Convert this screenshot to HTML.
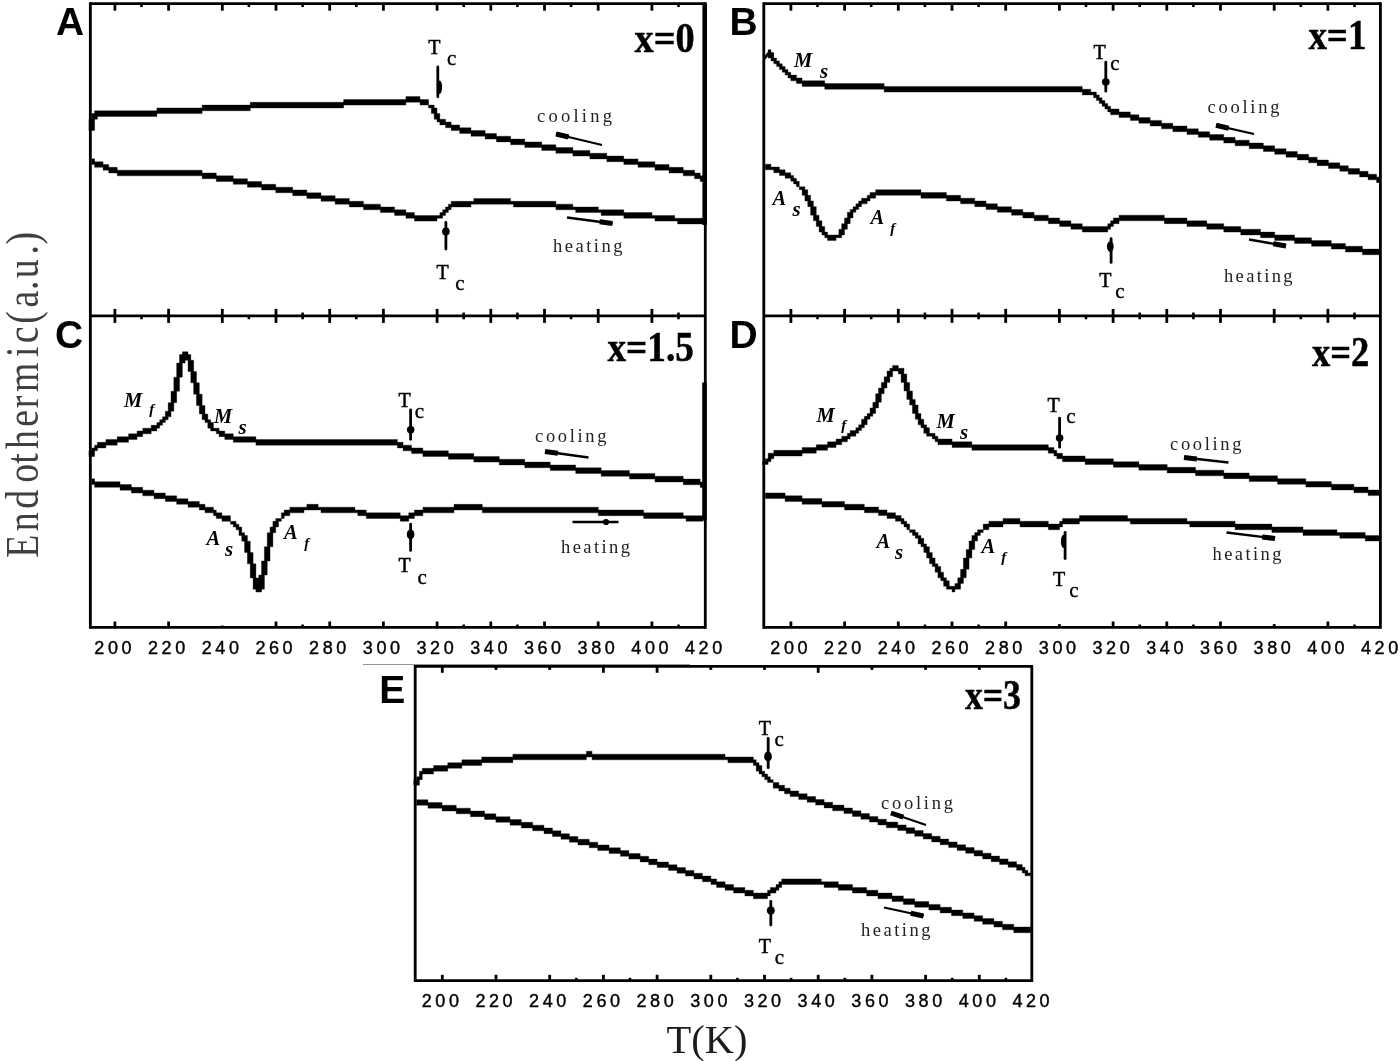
<!DOCTYPE html>
<html lang="en"><head><meta charset="utf-8"><title>Endothermic DSC curves</title>
<style>
html,body{margin:0;padding:0;background:#fff;}
body{width:1400px;height:1061px;overflow:hidden;}
svg{display:block;}
svg text{white-space:pre;}
</style></head><body>
<svg width="1400" height="1061" viewBox="0 0 1400 1061">
<defs><filter id="soft" x="0" y="0" width="100%" height="100%" filterUnits="userSpaceOnUse"><feGaussianBlur stdDeviation="0.55"/></filter></defs>
<rect x="0" y="0" width="1400" height="1061" fill="#fff"/>
<line x1="90.35" y1="2.29" x2="90.35" y2="628.71" stroke="#000" stroke-width="2.83" stroke-linecap="butt"/>
<line x1="705.30" y1="2.29" x2="705.30" y2="628.71" stroke="#000" stroke-width="2.83" stroke-linecap="butt"/>
<line x1="90.35" y1="3.70" x2="705.30" y2="3.70" stroke="#000" stroke-width="2.83" stroke-linecap="butt"/>
<line x1="90.35" y1="315.90" x2="705.30" y2="315.90" stroke="#000" stroke-width="2.83" stroke-linecap="butt"/>
<line x1="90.35" y1="627.30" x2="705.30" y2="627.30" stroke="#000" stroke-width="2.83" stroke-linecap="butt"/>
<line x1="704.70" y1="3.70" x2="704.70" y2="225.00" stroke="#000" stroke-width="4.60" stroke-linecap="butt"/>
<line x1="704.50" y1="382.50" x2="704.50" y2="520.50" stroke="#000" stroke-width="4.60" stroke-linecap="butt"/>
<line x1="763.80" y1="2.29" x2="763.80" y2="628.71" stroke="#000" stroke-width="2.83" stroke-linecap="butt"/>
<line x1="1380.40" y1="2.29" x2="1380.40" y2="628.71" stroke="#000" stroke-width="2.83" stroke-linecap="butt"/>
<line x1="763.80" y1="3.70" x2="1380.40" y2="3.70" stroke="#000" stroke-width="2.83" stroke-linecap="butt"/>
<line x1="763.80" y1="315.90" x2="1380.40" y2="315.90" stroke="#000" stroke-width="2.83" stroke-linecap="butt"/>
<line x1="763.80" y1="627.30" x2="1380.40" y2="627.30" stroke="#000" stroke-width="2.83" stroke-linecap="butt"/>
<line x1="415.20" y1="664.88" x2="415.20" y2="982.01" stroke="#000" stroke-width="2.83" stroke-linecap="butt"/>
<line x1="1031.80" y1="664.88" x2="1031.80" y2="982.01" stroke="#000" stroke-width="2.83" stroke-linecap="butt"/>
<line x1="415.20" y1="666.30" x2="1031.80" y2="666.30" stroke="#000" stroke-width="2.83" stroke-linecap="butt"/>
<line x1="415.20" y1="980.60" x2="1031.80" y2="980.60" stroke="#000" stroke-width="2.83" stroke-linecap="butt"/>
<line x1="363.00" y1="664.50" x2="690.00" y2="664.50" stroke="#888" stroke-width="0.90" stroke-linecap="butt"/>
<line x1="114.90" y1="3.70" x2="114.90" y2="10.70" stroke="#000" stroke-width="2.80" stroke-linecap="butt"/>
<line x1="168.60" y1="3.70" x2="168.60" y2="10.70" stroke="#000" stroke-width="2.80" stroke-linecap="butt"/>
<line x1="222.30" y1="3.70" x2="222.30" y2="10.70" stroke="#000" stroke-width="2.80" stroke-linecap="butt"/>
<line x1="276.00" y1="3.70" x2="276.00" y2="10.70" stroke="#000" stroke-width="2.80" stroke-linecap="butt"/>
<line x1="329.70" y1="3.70" x2="329.70" y2="10.70" stroke="#000" stroke-width="2.80" stroke-linecap="butt"/>
<line x1="383.40" y1="3.70" x2="383.40" y2="10.70" stroke="#000" stroke-width="2.80" stroke-linecap="butt"/>
<line x1="437.10" y1="3.70" x2="437.10" y2="10.70" stroke="#000" stroke-width="2.80" stroke-linecap="butt"/>
<line x1="490.80" y1="3.70" x2="490.80" y2="10.70" stroke="#000" stroke-width="2.80" stroke-linecap="butt"/>
<line x1="544.50" y1="3.70" x2="544.50" y2="10.70" stroke="#000" stroke-width="2.80" stroke-linecap="butt"/>
<line x1="598.20" y1="3.70" x2="598.20" y2="10.70" stroke="#000" stroke-width="2.80" stroke-linecap="butt"/>
<line x1="651.90" y1="3.70" x2="651.90" y2="10.70" stroke="#000" stroke-width="2.80" stroke-linecap="butt"/>
<line x1="141.50" y1="3.70" x2="141.50" y2="7.06" stroke="#000" stroke-width="2.60" stroke-linecap="butt"/>
<line x1="248.90" y1="3.70" x2="248.90" y2="7.06" stroke="#000" stroke-width="2.60" stroke-linecap="butt"/>
<line x1="302.60" y1="3.70" x2="302.60" y2="7.06" stroke="#000" stroke-width="2.60" stroke-linecap="butt"/>
<line x1="356.30" y1="3.70" x2="356.30" y2="7.06" stroke="#000" stroke-width="2.60" stroke-linecap="butt"/>
<line x1="463.70" y1="3.70" x2="463.70" y2="7.06" stroke="#000" stroke-width="2.60" stroke-linecap="butt"/>
<line x1="517.40" y1="3.70" x2="517.40" y2="7.06" stroke="#000" stroke-width="2.60" stroke-linecap="butt"/>
<line x1="571.10" y1="3.70" x2="571.10" y2="7.06" stroke="#000" stroke-width="2.60" stroke-linecap="butt"/>
<line x1="678.50" y1="3.70" x2="678.50" y2="7.06" stroke="#000" stroke-width="2.60" stroke-linecap="butt"/>
<line x1="790.90" y1="3.70" x2="790.90" y2="10.70" stroke="#000" stroke-width="2.80" stroke-linecap="butt"/>
<line x1="844.60" y1="3.70" x2="844.60" y2="10.70" stroke="#000" stroke-width="2.80" stroke-linecap="butt"/>
<line x1="898.30" y1="3.70" x2="898.30" y2="10.70" stroke="#000" stroke-width="2.80" stroke-linecap="butt"/>
<line x1="952.00" y1="3.70" x2="952.00" y2="10.70" stroke="#000" stroke-width="2.80" stroke-linecap="butt"/>
<line x1="1005.70" y1="3.70" x2="1005.70" y2="10.70" stroke="#000" stroke-width="2.80" stroke-linecap="butt"/>
<line x1="1059.40" y1="3.70" x2="1059.40" y2="10.70" stroke="#000" stroke-width="2.80" stroke-linecap="butt"/>
<line x1="1113.10" y1="3.70" x2="1113.10" y2="10.70" stroke="#000" stroke-width="2.80" stroke-linecap="butt"/>
<line x1="1166.80" y1="3.70" x2="1166.80" y2="10.70" stroke="#000" stroke-width="2.80" stroke-linecap="butt"/>
<line x1="1220.50" y1="3.70" x2="1220.50" y2="10.70" stroke="#000" stroke-width="2.80" stroke-linecap="butt"/>
<line x1="1274.20" y1="3.70" x2="1274.20" y2="10.70" stroke="#000" stroke-width="2.80" stroke-linecap="butt"/>
<line x1="1327.90" y1="3.70" x2="1327.90" y2="10.70" stroke="#000" stroke-width="2.80" stroke-linecap="butt"/>
<line x1="817.50" y1="3.70" x2="817.50" y2="7.06" stroke="#000" stroke-width="2.60" stroke-linecap="butt"/>
<line x1="871.20" y1="3.70" x2="871.20" y2="7.06" stroke="#000" stroke-width="2.60" stroke-linecap="butt"/>
<line x1="924.90" y1="3.70" x2="924.90" y2="7.06" stroke="#000" stroke-width="2.60" stroke-linecap="butt"/>
<line x1="978.60" y1="3.70" x2="978.60" y2="7.06" stroke="#000" stroke-width="2.60" stroke-linecap="butt"/>
<line x1="1086.00" y1="3.70" x2="1086.00" y2="7.06" stroke="#000" stroke-width="2.60" stroke-linecap="butt"/>
<line x1="1139.70" y1="3.70" x2="1139.70" y2="7.06" stroke="#000" stroke-width="2.60" stroke-linecap="butt"/>
<line x1="1193.40" y1="3.70" x2="1193.40" y2="7.06" stroke="#000" stroke-width="2.60" stroke-linecap="butt"/>
<line x1="1300.80" y1="3.70" x2="1300.80" y2="7.06" stroke="#000" stroke-width="2.60" stroke-linecap="butt"/>
<line x1="1354.50" y1="3.70" x2="1354.50" y2="7.06" stroke="#000" stroke-width="2.60" stroke-linecap="butt"/>
<line x1="114.90" y1="308.90" x2="114.90" y2="322.90" stroke="#000" stroke-width="2.80" stroke-linecap="butt"/>
<line x1="168.60" y1="308.90" x2="168.60" y2="322.90" stroke="#000" stroke-width="2.80" stroke-linecap="butt"/>
<line x1="222.30" y1="308.90" x2="222.30" y2="322.90" stroke="#000" stroke-width="2.80" stroke-linecap="butt"/>
<line x1="276.00" y1="308.90" x2="276.00" y2="322.90" stroke="#000" stroke-width="2.80" stroke-linecap="butt"/>
<line x1="329.70" y1="308.90" x2="329.70" y2="322.90" stroke="#000" stroke-width="2.80" stroke-linecap="butt"/>
<line x1="383.40" y1="308.90" x2="383.40" y2="322.90" stroke="#000" stroke-width="2.80" stroke-linecap="butt"/>
<line x1="437.10" y1="308.90" x2="437.10" y2="322.90" stroke="#000" stroke-width="2.80" stroke-linecap="butt"/>
<line x1="490.80" y1="308.90" x2="490.80" y2="322.90" stroke="#000" stroke-width="2.80" stroke-linecap="butt"/>
<line x1="544.50" y1="308.90" x2="544.50" y2="322.90" stroke="#000" stroke-width="2.80" stroke-linecap="butt"/>
<line x1="598.20" y1="308.90" x2="598.20" y2="322.90" stroke="#000" stroke-width="2.80" stroke-linecap="butt"/>
<line x1="651.90" y1="308.90" x2="651.90" y2="322.90" stroke="#000" stroke-width="2.80" stroke-linecap="butt"/>
<line x1="141.50" y1="315.90" x2="141.50" y2="319.26" stroke="#000" stroke-width="2.60" stroke-linecap="butt"/>
<line x1="248.90" y1="315.90" x2="248.90" y2="319.26" stroke="#000" stroke-width="2.60" stroke-linecap="butt"/>
<line x1="302.60" y1="312.54" x2="302.60" y2="319.26" stroke="#000" stroke-width="2.60" stroke-linecap="butt"/>
<line x1="356.30" y1="315.90" x2="356.30" y2="319.26" stroke="#000" stroke-width="2.60" stroke-linecap="butt"/>
<line x1="463.70" y1="312.54" x2="463.70" y2="319.26" stroke="#000" stroke-width="2.60" stroke-linecap="butt"/>
<line x1="517.40" y1="312.54" x2="517.40" y2="319.26" stroke="#000" stroke-width="2.60" stroke-linecap="butt"/>
<line x1="571.10" y1="315.90" x2="571.10" y2="319.26" stroke="#000" stroke-width="2.60" stroke-linecap="butt"/>
<line x1="678.50" y1="312.54" x2="678.50" y2="319.26" stroke="#000" stroke-width="2.60" stroke-linecap="butt"/>
<line x1="790.90" y1="308.90" x2="790.90" y2="322.90" stroke="#000" stroke-width="2.80" stroke-linecap="butt"/>
<line x1="844.60" y1="308.90" x2="844.60" y2="322.90" stroke="#000" stroke-width="2.80" stroke-linecap="butt"/>
<line x1="898.30" y1="308.90" x2="898.30" y2="322.90" stroke="#000" stroke-width="2.80" stroke-linecap="butt"/>
<line x1="952.00" y1="308.90" x2="952.00" y2="322.90" stroke="#000" stroke-width="2.80" stroke-linecap="butt"/>
<line x1="1005.70" y1="308.90" x2="1005.70" y2="322.90" stroke="#000" stroke-width="2.80" stroke-linecap="butt"/>
<line x1="1059.40" y1="308.90" x2="1059.40" y2="322.90" stroke="#000" stroke-width="2.80" stroke-linecap="butt"/>
<line x1="1113.10" y1="308.90" x2="1113.10" y2="322.90" stroke="#000" stroke-width="2.80" stroke-linecap="butt"/>
<line x1="1166.80" y1="308.90" x2="1166.80" y2="322.90" stroke="#000" stroke-width="2.80" stroke-linecap="butt"/>
<line x1="1220.50" y1="308.90" x2="1220.50" y2="322.90" stroke="#000" stroke-width="2.80" stroke-linecap="butt"/>
<line x1="1274.20" y1="308.90" x2="1274.20" y2="322.90" stroke="#000" stroke-width="2.80" stroke-linecap="butt"/>
<line x1="1327.90" y1="308.90" x2="1327.90" y2="322.90" stroke="#000" stroke-width="2.80" stroke-linecap="butt"/>
<line x1="817.50" y1="315.90" x2="817.50" y2="319.26" stroke="#000" stroke-width="2.60" stroke-linecap="butt"/>
<line x1="871.20" y1="315.90" x2="871.20" y2="319.26" stroke="#000" stroke-width="2.60" stroke-linecap="butt"/>
<line x1="924.90" y1="312.54" x2="924.90" y2="319.26" stroke="#000" stroke-width="2.60" stroke-linecap="butt"/>
<line x1="978.60" y1="312.54" x2="978.60" y2="319.26" stroke="#000" stroke-width="2.60" stroke-linecap="butt"/>
<line x1="1086.00" y1="315.90" x2="1086.00" y2="319.26" stroke="#000" stroke-width="2.60" stroke-linecap="butt"/>
<line x1="1139.70" y1="312.54" x2="1139.70" y2="319.26" stroke="#000" stroke-width="2.60" stroke-linecap="butt"/>
<line x1="1193.40" y1="312.54" x2="1193.40" y2="319.26" stroke="#000" stroke-width="2.60" stroke-linecap="butt"/>
<line x1="1300.80" y1="315.90" x2="1300.80" y2="319.26" stroke="#000" stroke-width="2.60" stroke-linecap="butt"/>
<line x1="1354.50" y1="312.54" x2="1354.50" y2="319.26" stroke="#000" stroke-width="2.60" stroke-linecap="butt"/>
<line x1="114.90" y1="621.50" x2="114.90" y2="627.30" stroke="#000" stroke-width="2.80" stroke-linecap="butt"/>
<line x1="168.60" y1="621.50" x2="168.60" y2="627.30" stroke="#000" stroke-width="2.80" stroke-linecap="butt"/>
<line x1="222.30" y1="625.56" x2="222.30" y2="627.30" stroke="#000" stroke-width="2.80" stroke-linecap="butt"/>
<line x1="276.00" y1="621.50" x2="276.00" y2="627.30" stroke="#000" stroke-width="2.80" stroke-linecap="butt"/>
<line x1="329.70" y1="621.50" x2="329.70" y2="627.30" stroke="#000" stroke-width="2.80" stroke-linecap="butt"/>
<line x1="383.40" y1="621.50" x2="383.40" y2="627.30" stroke="#000" stroke-width="2.80" stroke-linecap="butt"/>
<line x1="437.10" y1="621.50" x2="437.10" y2="627.30" stroke="#000" stroke-width="2.80" stroke-linecap="butt"/>
<line x1="490.80" y1="621.50" x2="490.80" y2="627.30" stroke="#000" stroke-width="2.80" stroke-linecap="butt"/>
<line x1="544.50" y1="621.50" x2="544.50" y2="627.30" stroke="#000" stroke-width="2.80" stroke-linecap="butt"/>
<line x1="598.20" y1="621.50" x2="598.20" y2="627.30" stroke="#000" stroke-width="2.80" stroke-linecap="butt"/>
<line x1="651.90" y1="621.50" x2="651.90" y2="627.30" stroke="#000" stroke-width="2.80" stroke-linecap="butt"/>
<line x1="302.60" y1="624.52" x2="302.60" y2="627.30" stroke="#000" stroke-width="2.60" stroke-linecap="butt"/>
<line x1="463.70" y1="624.52" x2="463.70" y2="627.30" stroke="#000" stroke-width="2.60" stroke-linecap="butt"/>
<line x1="517.40" y1="624.52" x2="517.40" y2="627.30" stroke="#000" stroke-width="2.60" stroke-linecap="butt"/>
<line x1="678.50" y1="624.52" x2="678.50" y2="627.30" stroke="#000" stroke-width="2.60" stroke-linecap="butt"/>
<line x1="790.90" y1="621.50" x2="790.90" y2="627.30" stroke="#000" stroke-width="2.80" stroke-linecap="butt"/>
<line x1="844.60" y1="621.50" x2="844.60" y2="627.30" stroke="#000" stroke-width="2.80" stroke-linecap="butt"/>
<line x1="898.30" y1="621.50" x2="898.30" y2="627.30" stroke="#000" stroke-width="2.80" stroke-linecap="butt"/>
<line x1="952.00" y1="621.50" x2="952.00" y2="627.30" stroke="#000" stroke-width="2.80" stroke-linecap="butt"/>
<line x1="1005.70" y1="621.50" x2="1005.70" y2="627.30" stroke="#000" stroke-width="2.80" stroke-linecap="butt"/>
<line x1="1059.40" y1="624.11" x2="1059.40" y2="627.30" stroke="#000" stroke-width="2.80" stroke-linecap="butt"/>
<line x1="1113.10" y1="621.50" x2="1113.10" y2="627.30" stroke="#000" stroke-width="2.80" stroke-linecap="butt"/>
<line x1="1166.80" y1="621.50" x2="1166.80" y2="627.30" stroke="#000" stroke-width="2.80" stroke-linecap="butt"/>
<line x1="1220.50" y1="621.50" x2="1220.50" y2="627.30" stroke="#000" stroke-width="2.80" stroke-linecap="butt"/>
<line x1="1274.20" y1="624.11" x2="1274.20" y2="627.30" stroke="#000" stroke-width="2.80" stroke-linecap="butt"/>
<line x1="1327.90" y1="621.50" x2="1327.90" y2="627.30" stroke="#000" stroke-width="2.80" stroke-linecap="butt"/>
<line x1="924.90" y1="624.52" x2="924.90" y2="627.30" stroke="#000" stroke-width="2.60" stroke-linecap="butt"/>
<line x1="978.60" y1="624.52" x2="978.60" y2="627.30" stroke="#000" stroke-width="2.60" stroke-linecap="butt"/>
<line x1="1139.70" y1="624.52" x2="1139.70" y2="627.30" stroke="#000" stroke-width="2.60" stroke-linecap="butt"/>
<line x1="1193.40" y1="624.52" x2="1193.40" y2="627.30" stroke="#000" stroke-width="2.60" stroke-linecap="butt"/>
<line x1="1354.50" y1="624.52" x2="1354.50" y2="627.30" stroke="#000" stroke-width="2.60" stroke-linecap="butt"/>
<line x1="442.30" y1="666.30" x2="442.30" y2="672.80" stroke="#000" stroke-width="2.80" stroke-linecap="butt"/>
<line x1="496.00" y1="666.30" x2="496.00" y2="669.88" stroke="#000" stroke-width="2.80" stroke-linecap="butt"/>
<line x1="549.70" y1="666.30" x2="549.70" y2="669.88" stroke="#000" stroke-width="2.80" stroke-linecap="butt"/>
<line x1="603.40" y1="666.30" x2="603.40" y2="672.80" stroke="#000" stroke-width="2.80" stroke-linecap="butt"/>
<line x1="657.10" y1="666.30" x2="657.10" y2="672.80" stroke="#000" stroke-width="2.80" stroke-linecap="butt"/>
<line x1="710.80" y1="666.30" x2="710.80" y2="669.88" stroke="#000" stroke-width="2.80" stroke-linecap="butt"/>
<line x1="764.50" y1="666.30" x2="764.50" y2="669.88" stroke="#000" stroke-width="2.80" stroke-linecap="butt"/>
<line x1="818.20" y1="666.30" x2="818.20" y2="672.80" stroke="#000" stroke-width="2.80" stroke-linecap="butt"/>
<line x1="871.90" y1="666.30" x2="871.90" y2="669.88" stroke="#000" stroke-width="2.80" stroke-linecap="butt"/>
<line x1="925.60" y1="666.30" x2="925.60" y2="669.88" stroke="#000" stroke-width="2.80" stroke-linecap="butt"/>
<line x1="979.30" y1="666.30" x2="979.30" y2="669.88" stroke="#000" stroke-width="2.80" stroke-linecap="butt"/>
<line x1="442.30" y1="974.80" x2="442.30" y2="980.60" stroke="#000" stroke-width="2.80" stroke-linecap="butt"/>
<line x1="496.00" y1="974.80" x2="496.00" y2="980.60" stroke="#000" stroke-width="2.80" stroke-linecap="butt"/>
<line x1="549.70" y1="974.80" x2="549.70" y2="980.60" stroke="#000" stroke-width="2.80" stroke-linecap="butt"/>
<line x1="603.40" y1="974.80" x2="603.40" y2="980.60" stroke="#000" stroke-width="2.80" stroke-linecap="butt"/>
<line x1="657.10" y1="974.80" x2="657.10" y2="980.60" stroke="#000" stroke-width="2.80" stroke-linecap="butt"/>
<line x1="710.80" y1="974.80" x2="710.80" y2="980.60" stroke="#000" stroke-width="2.80" stroke-linecap="butt"/>
<line x1="764.50" y1="974.80" x2="764.50" y2="980.60" stroke="#000" stroke-width="2.80" stroke-linecap="butt"/>
<line x1="818.20" y1="974.80" x2="818.20" y2="980.60" stroke="#000" stroke-width="2.80" stroke-linecap="butt"/>
<line x1="871.90" y1="974.80" x2="871.90" y2="980.60" stroke="#000" stroke-width="2.80" stroke-linecap="butt"/>
<line x1="925.60" y1="974.80" x2="925.60" y2="980.60" stroke="#000" stroke-width="2.80" stroke-linecap="butt"/>
<line x1="979.30" y1="974.80" x2="979.30" y2="980.60" stroke="#000" stroke-width="2.80" stroke-linecap="butt"/>
<line x1="576.30" y1="977.82" x2="576.30" y2="980.60" stroke="#000" stroke-width="2.60" stroke-linecap="butt"/>
<line x1="630.00" y1="977.82" x2="630.00" y2="980.60" stroke="#000" stroke-width="2.60" stroke-linecap="butt"/>
<line x1="737.40" y1="977.82" x2="737.40" y2="980.60" stroke="#000" stroke-width="2.60" stroke-linecap="butt"/>
<line x1="791.10" y1="977.82" x2="791.10" y2="980.60" stroke="#000" stroke-width="2.60" stroke-linecap="butt"/>
<line x1="844.80" y1="977.82" x2="844.80" y2="980.60" stroke="#000" stroke-width="2.60" stroke-linecap="butt"/>
<line x1="952.20" y1="977.82" x2="952.20" y2="980.60" stroke="#000" stroke-width="2.60" stroke-linecap="butt"/>
<line x1="1005.90" y1="977.82" x2="1005.90" y2="980.60" stroke="#000" stroke-width="2.60" stroke-linecap="butt"/>
<text x="114.70" y="653.80" font-family='"Liberation Sans", sans-serif' font-size="18.00" font-weight="normal" font-style="normal" fill="#000" text-anchor="middle" letter-spacing="3.60" stroke="#000" stroke-width="0.4">200</text>
<text x="168.40" y="653.80" font-family='"Liberation Sans", sans-serif' font-size="18.00" font-weight="normal" font-style="normal" fill="#000" text-anchor="middle" letter-spacing="3.60" stroke="#000" stroke-width="0.4">220</text>
<text x="222.10" y="653.80" font-family='"Liberation Sans", sans-serif' font-size="18.00" font-weight="normal" font-style="normal" fill="#000" text-anchor="middle" letter-spacing="3.60" stroke="#000" stroke-width="0.4">240</text>
<text x="275.80" y="653.80" font-family='"Liberation Sans", sans-serif' font-size="18.00" font-weight="normal" font-style="normal" fill="#000" text-anchor="middle" letter-spacing="3.60" stroke="#000" stroke-width="0.4">260</text>
<text x="329.50" y="653.80" font-family='"Liberation Sans", sans-serif' font-size="18.00" font-weight="normal" font-style="normal" fill="#000" text-anchor="middle" letter-spacing="3.60" stroke="#000" stroke-width="0.4">280</text>
<text x="383.20" y="653.80" font-family='"Liberation Sans", sans-serif' font-size="18.00" font-weight="normal" font-style="normal" fill="#000" text-anchor="middle" letter-spacing="3.60" stroke="#000" stroke-width="0.4">300</text>
<text x="436.90" y="653.80" font-family='"Liberation Sans", sans-serif' font-size="18.00" font-weight="normal" font-style="normal" fill="#000" text-anchor="middle" letter-spacing="3.60" stroke="#000" stroke-width="0.4">320</text>
<text x="490.60" y="653.80" font-family='"Liberation Sans", sans-serif' font-size="18.00" font-weight="normal" font-style="normal" fill="#000" text-anchor="middle" letter-spacing="3.60" stroke="#000" stroke-width="0.4">340</text>
<text x="544.30" y="653.80" font-family='"Liberation Sans", sans-serif' font-size="18.00" font-weight="normal" font-style="normal" fill="#000" text-anchor="middle" letter-spacing="3.60" stroke="#000" stroke-width="0.4">360</text>
<text x="598.00" y="653.80" font-family='"Liberation Sans", sans-serif' font-size="18.00" font-weight="normal" font-style="normal" fill="#000" text-anchor="middle" letter-spacing="3.60" stroke="#000" stroke-width="0.4">380</text>
<text x="651.70" y="653.80" font-family='"Liberation Sans", sans-serif' font-size="18.00" font-weight="normal" font-style="normal" fill="#000" text-anchor="middle" letter-spacing="3.60" stroke="#000" stroke-width="0.4">400</text>
<text x="705.40" y="653.80" font-family='"Liberation Sans", sans-serif' font-size="18.00" font-weight="normal" font-style="normal" fill="#000" text-anchor="middle" letter-spacing="3.60" stroke="#000" stroke-width="0.4">420</text>
<text x="790.70" y="653.80" font-family='"Liberation Sans", sans-serif' font-size="18.00" font-weight="normal" font-style="normal" fill="#000" text-anchor="middle" letter-spacing="3.60" stroke="#000" stroke-width="0.4">200</text>
<text x="844.40" y="653.80" font-family='"Liberation Sans", sans-serif' font-size="18.00" font-weight="normal" font-style="normal" fill="#000" text-anchor="middle" letter-spacing="3.60" stroke="#000" stroke-width="0.4">220</text>
<text x="898.10" y="653.80" font-family='"Liberation Sans", sans-serif' font-size="18.00" font-weight="normal" font-style="normal" fill="#000" text-anchor="middle" letter-spacing="3.60" stroke="#000" stroke-width="0.4">240</text>
<text x="951.80" y="653.80" font-family='"Liberation Sans", sans-serif' font-size="18.00" font-weight="normal" font-style="normal" fill="#000" text-anchor="middle" letter-spacing="3.60" stroke="#000" stroke-width="0.4">260</text>
<text x="1005.50" y="653.80" font-family='"Liberation Sans", sans-serif' font-size="18.00" font-weight="normal" font-style="normal" fill="#000" text-anchor="middle" letter-spacing="3.60" stroke="#000" stroke-width="0.4">280</text>
<text x="1059.20" y="653.80" font-family='"Liberation Sans", sans-serif' font-size="18.00" font-weight="normal" font-style="normal" fill="#000" text-anchor="middle" letter-spacing="3.60" stroke="#000" stroke-width="0.4">300</text>
<text x="1112.90" y="653.80" font-family='"Liberation Sans", sans-serif' font-size="18.00" font-weight="normal" font-style="normal" fill="#000" text-anchor="middle" letter-spacing="3.60" stroke="#000" stroke-width="0.4">320</text>
<text x="1166.60" y="653.80" font-family='"Liberation Sans", sans-serif' font-size="18.00" font-weight="normal" font-style="normal" fill="#000" text-anchor="middle" letter-spacing="3.60" stroke="#000" stroke-width="0.4">340</text>
<text x="1220.30" y="653.80" font-family='"Liberation Sans", sans-serif' font-size="18.00" font-weight="normal" font-style="normal" fill="#000" text-anchor="middle" letter-spacing="3.60" stroke="#000" stroke-width="0.4">360</text>
<text x="1274.00" y="653.80" font-family='"Liberation Sans", sans-serif' font-size="18.00" font-weight="normal" font-style="normal" fill="#000" text-anchor="middle" letter-spacing="3.60" stroke="#000" stroke-width="0.4">380</text>
<text x="1327.70" y="653.80" font-family='"Liberation Sans", sans-serif' font-size="18.00" font-weight="normal" font-style="normal" fill="#000" text-anchor="middle" letter-spacing="3.60" stroke="#000" stroke-width="0.4">400</text>
<text x="1381.40" y="653.80" font-family='"Liberation Sans", sans-serif' font-size="18.00" font-weight="normal" font-style="normal" fill="#000" text-anchor="middle" letter-spacing="3.60" stroke="#000" stroke-width="0.4">420</text>
<text x="442.10" y="1006.80" font-family='"Liberation Sans", sans-serif' font-size="18.00" font-weight="normal" font-style="normal" fill="#000" text-anchor="middle" letter-spacing="3.60" stroke="#000" stroke-width="0.4">200</text>
<text x="495.80" y="1006.80" font-family='"Liberation Sans", sans-serif' font-size="18.00" font-weight="normal" font-style="normal" fill="#000" text-anchor="middle" letter-spacing="3.60" stroke="#000" stroke-width="0.4">220</text>
<text x="549.50" y="1006.80" font-family='"Liberation Sans", sans-serif' font-size="18.00" font-weight="normal" font-style="normal" fill="#000" text-anchor="middle" letter-spacing="3.60" stroke="#000" stroke-width="0.4">240</text>
<text x="603.20" y="1006.80" font-family='"Liberation Sans", sans-serif' font-size="18.00" font-weight="normal" font-style="normal" fill="#000" text-anchor="middle" letter-spacing="3.60" stroke="#000" stroke-width="0.4">260</text>
<text x="656.90" y="1006.80" font-family='"Liberation Sans", sans-serif' font-size="18.00" font-weight="normal" font-style="normal" fill="#000" text-anchor="middle" letter-spacing="3.60" stroke="#000" stroke-width="0.4">280</text>
<text x="710.60" y="1006.80" font-family='"Liberation Sans", sans-serif' font-size="18.00" font-weight="normal" font-style="normal" fill="#000" text-anchor="middle" letter-spacing="3.60" stroke="#000" stroke-width="0.4">300</text>
<text x="764.30" y="1006.80" font-family='"Liberation Sans", sans-serif' font-size="18.00" font-weight="normal" font-style="normal" fill="#000" text-anchor="middle" letter-spacing="3.60" stroke="#000" stroke-width="0.4">320</text>
<text x="818.00" y="1006.80" font-family='"Liberation Sans", sans-serif' font-size="18.00" font-weight="normal" font-style="normal" fill="#000" text-anchor="middle" letter-spacing="3.60" stroke="#000" stroke-width="0.4">340</text>
<text x="871.70" y="1006.80" font-family='"Liberation Sans", sans-serif' font-size="18.00" font-weight="normal" font-style="normal" fill="#000" text-anchor="middle" letter-spacing="3.60" stroke="#000" stroke-width="0.4">360</text>
<text x="925.40" y="1006.80" font-family='"Liberation Sans", sans-serif' font-size="18.00" font-weight="normal" font-style="normal" fill="#000" text-anchor="middle" letter-spacing="3.60" stroke="#000" stroke-width="0.4">380</text>
<text x="979.10" y="1006.80" font-family='"Liberation Sans", sans-serif' font-size="18.00" font-weight="normal" font-style="normal" fill="#000" text-anchor="middle" letter-spacing="3.60" stroke="#000" stroke-width="0.4">400</text>
<text x="1032.80" y="1006.80" font-family='"Liberation Sans", sans-serif' font-size="18.00" font-weight="normal" font-style="normal" fill="#000" text-anchor="middle" letter-spacing="3.60" stroke="#000" stroke-width="0.4">420</text>
<g filter="url(#soft)">
<path d="M405.90,96.62h14.15v2.83h-14.15zM343.63,99.45h84.90v2.83h-84.90zM250.25,102.28h155.65v2.83h-155.65zM420.05,102.28h8.49v2.83h-8.49zM202.13,105.11h141.50v2.83h-141.50zM428.54,105.11h5.66v2.83h-5.66zM156.86,107.94h93.39v2.83h-93.39zM431.37,107.94h5.66v2.83h-5.66zM94.59,110.77h107.54v2.83h-107.54zM431.37,110.77h5.66v2.83h-5.66zM91.77,113.60h65.09v2.83h-65.09zM434.19,113.60h5.66v2.83h-5.66zM91.77,116.43h5.66v2.83h-5.66zM434.19,116.43h5.66v2.83h-5.66zM88.94,119.26h5.66v2.83h-5.66zM437.03,119.26h8.49v2.83h-8.49zM88.94,122.09h5.66v2.83h-5.66zM439.86,122.09h11.32v2.83h-11.32zM88.94,124.92h5.66v2.83h-5.66zM445.51,124.92h14.15v2.83h-14.15zM88.94,127.75h5.66v2.83h-5.66zM451.18,127.75h19.81v2.83h-19.81zM459.67,130.58h25.47v2.83h-25.47zM470.99,133.41h25.47v2.83h-25.47zM485.13,136.24h25.47v2.83h-25.47zM496.45,139.07h28.30v2.83h-28.30zM510.61,141.90h31.13v2.83h-31.13zM524.75,144.73h31.13v2.83h-31.13zM541.74,147.56h31.13v2.83h-31.13zM555.88,150.39h33.96v2.83h-33.96zM572.87,153.22h33.96v2.83h-33.96zM589.85,156.05h33.96v2.83h-33.96zM606.83,158.88h31.13v2.83h-31.13zM623.81,161.71h31.13v2.83h-31.13zM637.95,164.54h31.13v2.83h-31.13zM654.93,167.37h28.30v2.83h-28.30zM669.09,170.20h25.47v2.83h-25.47zM683.24,173.03h16.98v2.83h-16.98zM694.56,175.86h8.49v2.83h-8.49zM700.21,178.69h2.83v2.83h-2.83z" fill="#000" stroke="#000" stroke-width="0.35" stroke-linejoin="round"/>
<path d="M91.77,158.85h2.83v2.83h-2.83zM91.77,161.68h11.32v2.83h-11.32zM94.59,164.51h14.15v2.83h-14.15zM103.09,167.34h14.15v2.83h-14.15zM108.75,170.17h93.39v2.83h-93.39zM117.23,173.00h99.05v2.83h-99.05zM202.13,175.83h31.13v2.83h-31.13zM216.29,178.66h31.13v2.83h-31.13zM233.27,181.49h28.30v2.83h-28.30zM247.42,184.32h28.30v2.83h-28.30zM261.56,187.15h31.13v2.83h-31.13zM275.72,189.98h31.13v2.83h-31.13zM292.69,192.81h28.30v2.83h-28.30zM306.85,195.64h28.30v2.83h-28.30zM321.00,198.47h28.30v2.83h-28.30zM473.81,198.47h36.79v2.83h-36.79zM335.14,201.30h28.30v2.83h-28.30zM451.18,201.30h104.71v2.83h-104.71zM349.30,204.13h31.13v2.83h-31.13zM448.35,204.13h22.64v2.83h-22.64zM513.43,204.13h59.43v2.83h-59.43zM363.44,206.96h31.13v2.83h-31.13zM445.51,206.96h5.66v2.83h-5.66zM555.88,206.96h42.45v2.83h-42.45zM380.43,209.79h25.47v2.83h-25.47zM442.69,209.79h5.66v2.83h-5.66zM575.69,209.79h48.11v2.83h-48.11zM394.57,212.62h19.81v2.83h-19.81zM439.86,212.62h5.66v2.83h-5.66zM601.16,212.62h50.94v2.83h-50.94zM405.90,215.45h36.79v2.83h-36.79zM623.81,215.45h50.94v2.83h-50.94zM414.38,218.28h22.64v2.83h-22.64zM654.93,218.28h48.11v2.83h-48.11zM677.58,221.11h25.47v2.83h-25.47z" fill="#000" stroke="#000" stroke-width="0.35" stroke-linejoin="round"/>
<path d="M768.13,49.63h2.83v2.83h-2.83zM768.13,52.46h5.66v2.83h-5.66zM768.13,55.29h5.66v2.83h-5.66zM770.96,58.12h5.66v2.83h-5.66zM773.80,60.95h5.66v2.83h-5.66zM776.62,63.78h5.66v2.83h-5.66zM779.45,66.61h5.66v2.83h-5.66zM782.29,69.44h5.66v2.83h-5.66zM785.12,72.27h5.66v2.83h-5.66zM787.94,75.10h8.49v2.83h-8.49zM790.78,77.93h11.32v2.83h-11.32zM796.43,80.76h28.30v2.83h-28.30zM802.10,83.59h82.07v2.83h-82.07zM824.74,86.42h257.53v2.83h-257.53zM884.16,89.25h206.59v2.83h-206.59zM1082.27,92.08h14.15v2.83h-14.15zM1093.59,94.91h5.66v2.83h-5.66zM1096.41,97.74h5.66v2.83h-5.66zM1099.25,100.57h5.66v2.83h-5.66zM1102.08,103.40h5.66v2.83h-5.66zM1104.90,106.23h5.66v2.83h-5.66zM1107.74,109.06h11.32v2.83h-11.32zM1110.57,111.89h19.81v2.83h-19.81zM1119.06,114.72h19.81v2.83h-19.81zM1130.38,117.55h19.81v2.83h-19.81zM1138.87,120.38h22.64v2.83h-22.64zM1150.18,123.21h22.64v2.83h-22.64zM1161.50,126.04h25.47v2.83h-25.47zM1172.83,128.87h25.47v2.83h-25.47zM1186.97,131.70h22.64v2.83h-22.64zM1198.30,134.53h25.47v2.83h-25.47zM1209.62,137.36h25.47v2.83h-25.47zM1223.76,140.19h25.47v2.83h-25.47zM1235.09,143.02h28.30v2.83h-28.30zM1249.23,145.85h25.47v2.83h-25.47zM1263.38,148.68h22.64v2.83h-22.64zM1274.70,151.51h22.64v2.83h-22.64zM1286.02,154.34h22.64v2.83h-22.64zM1297.35,157.17h19.81v2.83h-19.81zM1308.66,160.00h19.81v2.83h-19.81zM1317.15,162.83h22.64v2.83h-22.64zM1328.47,165.66h19.81v2.83h-19.81zM1339.80,168.49h19.81v2.83h-19.81zM1348.29,171.32h19.81v2.83h-19.81zM1359.61,174.15h16.98v2.83h-16.98zM1368.10,176.98h11.32v2.83h-11.32zM1376.59,179.81h2.83v2.83h-2.83z" fill="#000" stroke="#000" stroke-width="0.35" stroke-linejoin="round"/>
<path d="M765.31,164.20h5.66v2.83h-5.66zM765.31,167.03h14.15v2.83h-14.15zM773.80,169.86h11.32v2.83h-11.32zM779.45,172.69h11.32v2.83h-11.32zM785.12,175.52h8.49v2.83h-8.49zM790.78,178.35h5.66v2.83h-5.66zM793.61,181.18h5.66v2.83h-5.66zM796.43,184.01h2.83v2.83h-2.83zM799.27,186.84h5.66v2.83h-5.66zM802.10,189.67h5.66v2.83h-5.66zM875.67,189.67h45.28v2.83h-45.28zM802.10,192.50h5.66v2.83h-5.66zM870.02,192.50h76.41v2.83h-76.41zM804.92,195.33h5.66v2.83h-5.66zM867.18,195.33h8.49v2.83h-8.49zM920.95,195.33h39.62v2.83h-39.62zM804.92,198.16h5.66v2.83h-5.66zM861.53,198.16h8.49v2.83h-8.49zM946.42,198.16h28.30v2.83h-28.30zM807.76,200.99h5.66v2.83h-5.66zM858.69,200.99h8.49v2.83h-8.49zM960.58,200.99h25.47v2.83h-25.47zM807.76,203.82h5.66v2.83h-5.66zM855.87,203.82h5.66v2.83h-5.66zM974.73,203.82h22.64v2.83h-22.64zM810.59,206.65h5.66v2.83h-5.66zM853.04,206.65h5.66v2.83h-5.66zM986.05,206.65h25.47v2.83h-25.47zM810.59,209.48h5.66v2.83h-5.66zM850.20,209.48h5.66v2.83h-5.66zM997.37,209.48h25.47v2.83h-25.47zM810.59,212.31h5.66v2.83h-5.66zM847.38,212.31h5.66v2.83h-5.66zM1011.52,212.31h22.64v2.83h-22.64zM813.41,215.14h5.66v2.83h-5.66zM847.38,215.14h5.66v2.83h-5.66zM1022.84,215.14h25.47v2.83h-25.47zM1119.06,215.14h45.28v2.83h-45.28zM813.41,217.97h5.66v2.83h-5.66zM844.55,217.97h5.66v2.83h-5.66zM1034.15,217.97h25.47v2.83h-25.47zM1113.39,217.97h73.58v2.83h-73.58zM816.25,220.80h5.66v2.83h-5.66zM844.55,220.80h5.66v2.83h-5.66zM1048.31,220.80h22.64v2.83h-22.64zM1110.57,220.80h8.49v2.83h-8.49zM1164.34,220.80h42.45v2.83h-42.45zM816.25,223.63h5.66v2.83h-5.66zM841.71,223.63h5.66v2.83h-5.66zM1059.62,223.63h22.64v2.83h-22.64zM1107.74,223.63h5.66v2.83h-5.66zM1186.97,223.63h36.79v2.83h-36.79zM819.08,226.46h5.66v2.83h-5.66zM841.71,226.46h5.66v2.83h-5.66zM1070.94,226.46h39.62v2.83h-39.62zM1206.79,226.46h33.96v2.83h-33.96zM819.08,229.29h5.66v2.83h-5.66zM838.88,229.29h5.66v2.83h-5.66zM1082.27,229.29h25.47v2.83h-25.47zM1223.76,229.29h36.79v2.83h-36.79zM821.90,232.12h5.66v2.83h-5.66zM838.88,232.12h5.66v2.83h-5.66zM1240.74,232.12h33.96v2.83h-33.96zM824.74,234.95h16.98v2.83h-16.98zM1260.56,234.95h33.96v2.83h-33.96zM827.57,237.78h8.49v2.83h-8.49zM1274.70,237.78h36.79v2.83h-36.79zM1294.51,240.61h36.79v2.83h-36.79zM1311.49,243.44h33.96v2.83h-33.96zM1331.31,246.27h31.13v2.83h-31.13zM1345.45,249.10h33.96v2.83h-33.96zM1362.43,251.93h16.98v2.83h-16.98z" fill="#000" stroke="#000" stroke-width="0.35" stroke-linejoin="round"/>
<path d="M182.32,351.74h5.66v2.83h-5.66zM179.50,354.57h11.32v2.83h-11.32zM179.50,357.40h11.32v2.83h-11.32zM179.50,360.23h5.66v2.83h-5.66zM187.99,360.23h5.66v2.83h-5.66zM176.67,363.06h5.66v2.83h-5.66zM187.99,363.06h5.66v2.83h-5.66zM176.67,365.89h5.66v2.83h-5.66zM187.99,365.89h5.66v2.83h-5.66zM176.67,368.72h5.66v2.83h-5.66zM187.99,368.72h5.66v2.83h-5.66zM176.67,371.55h5.66v2.83h-5.66zM190.81,371.55h5.66v2.83h-5.66zM176.67,374.38h5.66v2.83h-5.66zM190.81,374.38h5.66v2.83h-5.66zM173.84,377.21h5.66v2.83h-5.66zM190.81,377.21h5.66v2.83h-5.66zM173.84,380.04h5.66v2.83h-5.66zM190.81,380.04h5.66v2.83h-5.66zM173.84,382.87h5.66v2.83h-5.66zM193.65,382.87h5.66v2.83h-5.66zM173.84,385.70h5.66v2.83h-5.66zM193.65,385.70h5.66v2.83h-5.66zM173.84,388.53h5.66v2.83h-5.66zM193.65,388.53h5.66v2.83h-5.66zM171.00,391.36h5.66v2.83h-5.66zM193.65,391.36h5.66v2.83h-5.66zM171.00,394.19h5.66v2.83h-5.66zM196.48,394.19h5.66v2.83h-5.66zM171.00,397.02h5.66v2.83h-5.66zM196.48,397.02h5.66v2.83h-5.66zM171.00,399.85h5.66v2.83h-5.66zM196.48,399.85h5.66v2.83h-5.66zM168.18,402.68h5.66v2.83h-5.66zM196.48,402.68h5.66v2.83h-5.66zM168.18,405.51h5.66v2.83h-5.66zM199.31,405.51h5.66v2.83h-5.66zM168.18,408.34h5.66v2.83h-5.66zM199.31,408.34h5.66v2.83h-5.66zM165.34,411.17h5.66v2.83h-5.66zM199.31,411.17h5.66v2.83h-5.66zM165.34,414.00h5.66v2.83h-5.66zM202.13,414.00h5.66v2.83h-5.66zM162.51,416.83h5.66v2.83h-5.66zM202.13,416.83h5.66v2.83h-5.66zM159.69,419.66h5.66v2.83h-5.66zM204.97,419.66h5.66v2.83h-5.66zM156.86,422.49h5.66v2.83h-5.66zM207.80,422.49h5.66v2.83h-5.66zM151.19,425.32h8.49v2.83h-8.49zM207.80,425.32h5.66v2.83h-5.66zM142.71,428.15h14.15v2.83h-14.15zM210.62,428.15h8.49v2.83h-8.49zM137.05,430.98h14.15v2.83h-14.15zM216.29,430.98h8.49v2.83h-8.49zM128.56,433.81h14.15v2.83h-14.15zM219.12,433.81h14.15v2.83h-14.15zM117.23,436.64h19.81v2.83h-19.81zM224.78,436.64h31.13v2.83h-31.13zM105.92,439.47h22.64v2.83h-22.64zM233.27,439.47h164.14v2.83h-164.14zM97.42,442.30h19.81v2.83h-19.81zM255.91,442.30h147.16v2.83h-147.16zM94.59,445.13h11.32v2.83h-11.32zM397.41,445.13h14.15v2.83h-14.15zM91.77,447.96h5.66v2.83h-5.66zM403.06,447.96h19.81v2.83h-19.81zM88.94,450.79h5.66v2.83h-5.66zM411.56,450.79h36.79v2.83h-36.79zM88.94,453.62h5.66v2.83h-5.66zM422.88,453.62h50.94v2.83h-50.94zM448.35,456.45h50.94v2.83h-50.94zM473.81,459.28h50.94v2.83h-50.94zM499.29,462.11h50.94v2.83h-50.94zM524.75,464.94h50.94v2.83h-50.94zM550.23,467.77h50.94v2.83h-50.94zM575.69,470.60h53.77v2.83h-53.77zM601.16,473.43h53.77v2.83h-53.77zM629.46,476.26h53.77v2.83h-53.77zM654.93,479.09h45.28v2.83h-45.28zM683.24,481.92h19.81v2.83h-19.81zM700.21,484.75h2.83v2.83h-2.83z" fill="#000" stroke="#000" stroke-width="0.35" stroke-linejoin="round"/>
<path d="M91.77,478.87h2.83v2.83h-2.83zM91.77,481.70h28.30v2.83h-28.30zM94.59,484.53h36.79v2.83h-36.79zM120.06,487.36h22.64v2.83h-22.64zM131.38,490.19h22.64v2.83h-22.64zM142.71,493.02h22.64v2.83h-22.64zM154.03,495.85h22.64v2.83h-22.64zM165.34,498.68h22.64v2.83h-22.64zM176.67,501.51h22.64v2.83h-22.64zM187.99,504.34h16.98v2.83h-16.98zM306.85,504.34h11.32v2.83h-11.32zM454.00,504.34h28.30v2.83h-28.30zM199.31,507.17h14.15v2.83h-14.15zM289.87,507.17h65.09v2.83h-65.09zM422.88,507.17h175.46v2.83h-175.46zM204.97,510.00h11.32v2.83h-11.32zM284.21,510.00h19.81v2.83h-19.81zM321.00,510.00h45.28v2.83h-45.28zM414.38,510.00h39.62v2.83h-39.62zM482.31,510.00h161.31v2.83h-161.31zM213.46,512.83h8.49v2.83h-8.49zM281.38,512.83h8.49v2.83h-8.49zM357.79,512.83h42.45v2.83h-42.45zM408.73,512.83h14.15v2.83h-14.15zM598.34,512.83h84.90v2.83h-84.90zM216.29,515.66h14.15v2.83h-14.15zM281.38,515.66h2.83v2.83h-2.83zM366.28,515.66h48.11v2.83h-48.11zM643.62,515.66h59.43v2.83h-59.43zM221.94,518.49h8.49v2.83h-8.49zM275.72,518.49h5.66v2.83h-5.66zM400.24,518.49h8.49v2.83h-8.49zM686.07,518.49h16.98v2.83h-16.98zM230.44,521.32h5.66v2.83h-5.66zM272.88,521.32h5.66v2.83h-5.66zM233.27,524.15h5.66v2.83h-5.66zM272.88,524.15h5.66v2.83h-5.66zM236.09,526.98h5.66v2.83h-5.66zM270.06,526.98h5.66v2.83h-5.66zM238.93,529.81h2.83v2.83h-2.83zM270.06,529.81h5.66v2.83h-5.66zM238.93,532.64h5.66v2.83h-5.66zM267.23,532.64h5.66v2.83h-5.66zM241.75,535.47h5.66v2.83h-5.66zM267.23,535.47h5.66v2.83h-5.66zM241.75,538.30h5.66v2.83h-5.66zM267.23,538.30h5.66v2.83h-5.66zM244.59,541.13h5.66v2.83h-5.66zM267.23,541.13h5.66v2.83h-5.66zM244.59,543.96h5.66v2.83h-5.66zM267.23,543.96h5.66v2.83h-5.66zM244.59,546.79h5.66v2.83h-5.66zM264.39,546.79h5.66v2.83h-5.66zM244.59,549.62h5.66v2.83h-5.66zM264.39,549.62h5.66v2.83h-5.66zM247.42,552.45h5.66v2.83h-5.66zM264.39,552.45h5.66v2.83h-5.66zM247.42,555.28h5.66v2.83h-5.66zM264.39,555.28h5.66v2.83h-5.66zM247.42,558.11h5.66v2.83h-5.66zM264.39,558.11h5.66v2.83h-5.66zM247.42,560.94h5.66v2.83h-5.66zM261.56,560.94h5.66v2.83h-5.66zM250.25,563.77h5.66v2.83h-5.66zM261.56,563.77h5.66v2.83h-5.66zM250.25,566.60h5.66v2.83h-5.66zM261.56,566.60h5.66v2.83h-5.66zM250.25,569.43h5.66v2.83h-5.66zM261.56,569.43h5.66v2.83h-5.66zM250.25,572.26h5.66v2.83h-5.66zM261.56,572.26h5.66v2.83h-5.66zM250.25,575.09h5.66v2.83h-5.66zM258.74,575.09h5.66v2.83h-5.66zM253.08,577.92h11.32v2.83h-11.32zM253.08,580.75h11.32v2.83h-11.32zM253.08,583.58h11.32v2.83h-11.32zM253.08,586.41h11.32v2.83h-11.32zM255.91,589.24h5.66v2.83h-5.66z" fill="#000" stroke="#000" stroke-width="0.35" stroke-linejoin="round"/>
<path d="M892.65,365.43h5.66v2.83h-5.66zM889.83,368.26h14.15v2.83h-14.15zM887.00,371.09h5.66v2.83h-5.66zM898.32,371.09h5.66v2.83h-5.66zM887.00,373.92h5.66v2.83h-5.66zM901.14,373.92h5.66v2.83h-5.66zM884.16,376.75h5.66v2.83h-5.66zM901.14,376.75h5.66v2.83h-5.66zM884.16,379.58h5.66v2.83h-5.66zM901.14,379.58h5.66v2.83h-5.66zM881.34,382.41h5.66v2.83h-5.66zM903.97,382.41h5.66v2.83h-5.66zM881.34,385.24h5.66v2.83h-5.66zM903.97,385.24h5.66v2.83h-5.66zM878.51,388.07h5.66v2.83h-5.66zM903.97,388.07h5.66v2.83h-5.66zM878.51,390.90h5.66v2.83h-5.66zM906.81,390.90h5.66v2.83h-5.66zM875.67,393.73h5.66v2.83h-5.66zM906.81,393.73h5.66v2.83h-5.66zM875.67,396.56h5.66v2.83h-5.66zM906.81,396.56h5.66v2.83h-5.66zM875.67,399.39h5.66v2.83h-5.66zM909.63,399.39h5.66v2.83h-5.66zM872.85,402.22h5.66v2.83h-5.66zM909.63,402.22h5.66v2.83h-5.66zM872.85,405.05h5.66v2.83h-5.66zM912.46,405.05h5.66v2.83h-5.66zM870.02,407.88h5.66v2.83h-5.66zM912.46,407.88h5.66v2.83h-5.66zM870.02,410.71h5.66v2.83h-5.66zM912.46,410.71h5.66v2.83h-5.66zM867.18,413.54h5.66v2.83h-5.66zM915.30,413.54h5.66v2.83h-5.66zM864.36,416.37h5.66v2.83h-5.66zM915.30,416.37h5.66v2.83h-5.66zM861.53,419.20h5.66v2.83h-5.66zM918.12,419.20h5.66v2.83h-5.66zM861.53,422.03h5.66v2.83h-5.66zM918.12,422.03h5.66v2.83h-5.66zM858.69,424.86h5.66v2.83h-5.66zM920.95,424.86h5.66v2.83h-5.66zM855.87,427.69h5.66v2.83h-5.66zM923.79,427.69h5.66v2.83h-5.66zM850.20,430.52h8.49v2.83h-8.49zM923.79,430.52h5.66v2.83h-5.66zM847.38,433.35h8.49v2.83h-8.49zM926.62,433.35h8.49v2.83h-8.49zM841.71,436.18h8.49v2.83h-8.49zM932.28,436.18h5.66v2.83h-5.66zM836.06,439.01h11.32v2.83h-11.32zM935.11,439.01h16.98v2.83h-16.98zM827.57,441.84h14.15v2.83h-14.15zM937.93,441.84h33.96v2.83h-33.96zM816.25,444.67h19.81v2.83h-19.81zM952.09,444.67h96.22v2.83h-96.22zM802.10,447.50h25.47v2.83h-25.47zM971.89,447.50h82.07v2.83h-82.07zM773.80,450.33h42.45v2.83h-42.45zM1048.31,450.33h8.49v2.83h-8.49zM768.13,453.16h33.96v2.83h-33.96zM1053.96,453.16h8.49v2.83h-8.49zM768.13,455.99h5.66v2.83h-5.66zM1056.80,455.99h28.30v2.83h-28.30zM765.31,458.82h5.66v2.83h-5.66zM1062.45,458.82h50.94v2.83h-50.94zM762.47,461.65h5.66v2.83h-5.66zM1085.10,461.65h53.77v2.83h-53.77zM1113.39,464.48h53.77v2.83h-53.77zM1138.87,467.31h56.60v2.83h-56.60zM1167.16,470.14h56.60v2.83h-56.60zM1195.46,472.97h53.77v2.83h-53.77zM1223.76,475.80h53.77v2.83h-53.77zM1249.23,478.63h56.60v2.83h-56.60zM1277.54,481.46h53.77v2.83h-53.77zM1305.84,484.29h48.11v2.83h-48.11zM1331.31,487.12h36.79v2.83h-36.79zM1353.94,489.95h25.47v2.83h-25.47zM1368.10,492.78h11.32v2.83h-11.32z" fill="#000" stroke="#000" stroke-width="0.35" stroke-linejoin="round"/>
<path d="M765.31,492.95h19.81v2.83h-19.81zM765.31,495.78h36.79v2.83h-36.79zM785.12,498.61h36.79v2.83h-36.79zM802.10,501.44h42.45v2.83h-42.45zM821.90,504.27h42.45v2.83h-42.45zM844.55,507.10h33.96v2.83h-33.96zM864.36,509.93h22.64v2.83h-22.64zM878.51,512.76h16.98v2.83h-16.98zM887.00,515.59h14.15v2.83h-14.15zM1079.43,515.59h48.11v2.83h-48.11zM895.49,518.42h8.49v2.83h-8.49zM1003.03,518.42h16.98v2.83h-16.98zM1062.45,518.42h124.52v2.83h-124.52zM901.14,521.25h5.66v2.83h-5.66zM988.88,521.25h59.43v2.83h-59.43zM1059.62,521.25h19.81v2.83h-19.81zM1130.38,521.25h104.71v2.83h-104.71zM903.97,524.08h5.66v2.83h-5.66zM983.21,524.08h19.81v2.83h-19.81zM1020.01,524.08h42.45v2.83h-42.45zM1189.81,524.08h82.07v2.83h-82.07zM906.81,526.91h2.83v2.83h-2.83zM983.21,526.91h5.66v2.83h-5.66zM1048.31,526.91h11.32v2.83h-11.32zM1235.09,526.91h67.92v2.83h-67.92zM909.63,529.74h5.66v2.83h-5.66zM977.56,529.74h5.66v2.83h-5.66zM1271.88,529.74h65.09v2.83h-65.09zM912.46,532.57h5.66v2.83h-5.66zM974.73,532.57h5.66v2.83h-5.66zM1303.00,532.57h62.26v2.83h-62.26zM915.30,535.40h5.66v2.83h-5.66zM971.89,535.40h5.66v2.83h-5.66zM1339.80,535.40h39.62v2.83h-39.62zM918.12,538.23h5.66v2.83h-5.66zM971.89,538.23h5.66v2.83h-5.66zM1365.26,538.23h14.15v2.83h-14.15zM918.12,541.06h5.66v2.83h-5.66zM969.07,541.06h5.66v2.83h-5.66zM920.95,543.89h5.66v2.83h-5.66zM969.07,543.89h5.66v2.83h-5.66zM923.79,546.72h5.66v2.83h-5.66zM969.07,546.72h5.66v2.83h-5.66zM923.79,549.55h5.66v2.83h-5.66zM966.24,549.55h5.66v2.83h-5.66zM926.62,552.38h5.66v2.83h-5.66zM966.24,552.38h5.66v2.83h-5.66zM926.62,555.21h5.66v2.83h-5.66zM966.24,555.21h5.66v2.83h-5.66zM929.44,558.04h5.66v2.83h-5.66zM963.40,558.04h5.66v2.83h-5.66zM929.44,560.87h5.66v2.83h-5.66zM963.40,560.87h5.66v2.83h-5.66zM932.28,563.70h5.66v2.83h-5.66zM963.40,563.70h5.66v2.83h-5.66zM935.11,566.53h5.66v2.83h-5.66zM963.40,566.53h5.66v2.83h-5.66zM935.11,569.36h5.66v2.83h-5.66zM960.58,569.36h5.66v2.83h-5.66zM937.93,572.19h5.66v2.83h-5.66zM960.58,572.19h5.66v2.83h-5.66zM937.93,575.02h5.66v2.83h-5.66zM960.58,575.02h5.66v2.83h-5.66zM940.77,577.85h5.66v2.83h-5.66zM957.75,577.85h5.66v2.83h-5.66zM943.60,580.68h5.66v2.83h-5.66zM957.75,580.68h5.66v2.83h-5.66zM943.60,583.51h5.66v2.83h-5.66zM954.91,583.51h5.66v2.83h-5.66zM946.42,586.34h14.15v2.83h-14.15zM952.09,589.17h2.83v2.83h-2.83z" fill="#000" stroke="#000" stroke-width="0.35" stroke-linejoin="round"/>
<path d="M586.41,751.34h5.66v2.83h-5.66zM512.84,754.17h212.25v2.83h-212.25zM481.71,757.00h104.71v2.83h-104.71zM592.08,757.00h161.31v2.83h-161.31zM461.90,759.83h50.94v2.83h-50.94zM727.91,759.83h28.30v2.83h-28.30zM447.75,762.66h33.96v2.83h-33.96zM753.38,762.66h5.66v2.83h-5.66zM433.60,765.49h28.30v2.83h-28.30zM756.22,765.49h5.66v2.83h-5.66zM422.28,768.32h25.47v2.83h-25.47zM756.22,768.32h5.66v2.83h-5.66zM419.45,771.15h14.15v2.83h-14.15zM759.05,771.15h5.66v2.83h-5.66zM419.45,773.98h2.83v2.83h-2.83zM761.88,773.98h5.66v2.83h-5.66zM416.62,776.81h5.66v2.83h-5.66zM764.71,776.81h5.66v2.83h-5.66zM413.79,779.64h5.66v2.83h-5.66zM767.54,779.64h5.66v2.83h-5.66zM413.79,782.47h5.66v2.83h-5.66zM773.20,782.47h5.66v2.83h-5.66zM773.20,785.30h11.32v2.83h-11.32zM778.86,788.13h11.32v2.83h-11.32zM784.52,790.96h14.15v2.83h-14.15zM790.17,793.79h16.98v2.83h-16.98zM798.66,796.62h16.98v2.83h-16.98zM807.15,799.45h16.98v2.83h-16.98zM815.64,802.28h16.98v2.83h-16.98zM824.13,805.11h19.81v2.83h-19.81zM832.62,807.94h19.81v2.83h-19.81zM843.95,810.77h16.98v2.83h-16.98zM852.44,813.60h16.98v2.83h-16.98zM860.92,816.43h16.98v2.83h-16.98zM869.41,819.26h16.98v2.83h-16.98zM877.90,822.09h19.81v2.83h-19.81zM886.39,824.92h19.81v2.83h-19.81zM897.72,827.75h16.98v2.83h-16.98zM906.21,830.58h16.98v2.83h-16.98zM914.70,833.41h16.98v2.83h-16.98zM923.19,836.24h16.98v2.83h-16.98zM931.67,839.07h16.98v2.83h-16.98zM940.16,841.90h16.98v2.83h-16.98zM948.65,844.73h16.98v2.83h-16.98zM957.14,847.56h16.98v2.83h-16.98zM965.63,850.39h16.98v2.83h-16.98zM974.12,853.22h16.98v2.83h-16.98zM982.62,856.05h16.98v2.83h-16.98zM991.11,858.88h16.98v2.83h-16.98zM999.60,861.71h16.98v2.83h-16.98zM1008.09,864.54h14.15v2.83h-14.15zM1016.58,867.37h8.49v2.83h-8.49zM1022.24,870.20h5.66v2.83h-5.66zM1025.07,873.03h5.66v2.83h-5.66z" fill="#000" stroke="#000" stroke-width="0.35" stroke-linejoin="round"/>
<path d="M416.62,799.68h11.32v2.83h-11.32zM416.62,802.51h25.47v2.83h-25.47zM427.94,805.34h28.30v2.83h-28.30zM442.09,808.17h28.30v2.83h-28.30zM456.24,811.00h28.30v2.83h-28.30zM470.39,813.83h25.47v2.83h-25.47zM484.54,816.66h25.47v2.83h-25.47zM495.86,819.49h25.47v2.83h-25.47zM510.00,822.32h22.64v2.83h-22.64zM521.33,825.15h22.64v2.83h-22.64zM532.64,827.98h19.81v2.83h-19.81zM543.97,830.81h16.98v2.83h-16.98zM552.46,833.64h16.98v2.83h-16.98zM560.95,836.47h16.98v2.83h-16.98zM569.44,839.30h19.81v2.83h-19.81zM577.93,842.13h19.81v2.83h-19.81zM589.25,844.96h19.81v2.83h-19.81zM597.74,847.79h22.64v2.83h-22.64zM609.06,850.62h19.81v2.83h-19.81zM620.38,853.45h19.81v2.83h-19.81zM628.87,856.28h19.81v2.83h-19.81zM640.19,859.11h16.98v2.83h-16.98zM648.68,861.94h19.81v2.83h-19.81zM657.16,864.77h19.81v2.83h-19.81zM668.49,867.60h16.98v2.83h-16.98zM676.98,870.43h16.98v2.83h-16.98zM685.47,873.26h16.98v2.83h-16.98zM693.96,876.09h16.98v2.83h-16.98zM702.45,878.92h14.15v2.83h-14.15zM781.69,878.92h39.62v2.83h-39.62zM710.94,881.75h14.15v2.83h-14.15zM778.86,881.75h59.43v2.83h-59.43zM716.60,884.58h16.98v2.83h-16.98zM776.03,884.58h5.66v2.83h-5.66zM824.13,884.58h28.30v2.83h-28.30zM725.09,887.41h19.81v2.83h-19.81zM770.37,887.41h8.49v2.83h-8.49zM838.29,887.41h28.30v2.83h-28.30zM733.58,890.24h19.81v2.83h-19.81zM767.54,890.24h8.49v2.83h-8.49zM852.44,890.24h25.47v2.83h-25.47zM744.89,893.07h25.47v2.83h-25.47zM866.59,893.07h25.47v2.83h-25.47zM753.38,895.90h14.15v2.83h-14.15zM877.90,895.90h25.47v2.83h-25.47zM892.06,898.73h22.64v2.83h-22.64zM903.38,901.56h25.47v2.83h-25.47zM914.70,904.39h25.47v2.83h-25.47zM928.85,907.22h22.64v2.83h-22.64zM940.16,910.05h22.64v2.83h-22.64zM951.49,912.88h22.64v2.83h-22.64zM962.81,915.71h19.81v2.83h-19.81zM974.12,918.54h19.81v2.83h-19.81zM982.62,921.37h19.81v2.83h-19.81zM993.93,924.20h19.81v2.83h-19.81zM1002.42,927.03h28.30v2.83h-28.30zM1013.75,929.86h16.98v2.83h-16.98z" fill="#000" stroke="#000" stroke-width="0.35" stroke-linejoin="round"/>
<line x1="764.60" y1="58.20" x2="769.40" y2="52.40" stroke="#000" stroke-width="2.90" stroke-linecap="round"/>
</g>
<text x="56.00" y="35.00" font-family='"Liberation Sans", sans-serif' font-size="39.00" font-weight="bold" font-style="normal" fill="#000" text-anchor="start" letter-spacing="0.00" >A</text>
<text x="729.60" y="35.00" font-family='"Liberation Sans", sans-serif' font-size="39.00" font-weight="bold" font-style="normal" fill="#000" text-anchor="start" letter-spacing="0.00" >B</text>
<text x="54.90" y="348.00" font-family='"Liberation Sans", sans-serif' font-size="39.00" font-weight="bold" font-style="normal" fill="#000" text-anchor="start" letter-spacing="0.00" >C</text>
<text x="729.60" y="347.50" font-family='"Liberation Sans", sans-serif' font-size="39.00" font-weight="bold" font-style="normal" fill="#000" text-anchor="start" letter-spacing="0.00" >D</text>
<text x="379.20" y="702.90" font-family='"Liberation Sans", sans-serif' font-size="39.00" font-weight="bold" font-style="normal" fill="#000" text-anchor="start" letter-spacing="0.00" >E</text>
<text x="634.50" y="51.60" font-family='"Liberation Serif", serif' font-size="41.50" font-weight="bold" font-style="normal" fill="#000" text-anchor="start" letter-spacing="0.00" stroke="#000" stroke-width="0.5" textLength="60.1" lengthAdjust="spacingAndGlyphs">x=0</text>
<text x="1308.40" y="48.90" font-family='"Liberation Serif", serif' font-size="41.50" font-weight="bold" font-style="normal" fill="#000" text-anchor="start" letter-spacing="0.00" stroke="#000" stroke-width="0.5" textLength="58.0" lengthAdjust="spacingAndGlyphs">x=1</text>
<text x="607.50" y="361.20" font-family='"Liberation Serif", serif' font-size="41.50" font-weight="bold" font-style="normal" fill="#000" text-anchor="start" letter-spacing="0.00" stroke="#000" stroke-width="0.5" textLength="86.3" lengthAdjust="spacingAndGlyphs">x=1.5</text>
<text x="1311.90" y="366.20" font-family='"Liberation Serif", serif' font-size="41.50" font-weight="bold" font-style="normal" fill="#000" text-anchor="start" letter-spacing="0.00" stroke="#000" stroke-width="0.5" textLength="57.3" lengthAdjust="spacingAndGlyphs">x=2</text>
<text x="964.90" y="708.60" font-family='"Liberation Serif", serif' font-size="41.50" font-weight="bold" font-style="normal" fill="#000" text-anchor="start" letter-spacing="0.00" stroke="#000" stroke-width="0.5" textLength="56.1" lengthAdjust="spacingAndGlyphs">x=3</text>
<g transform="translate(37.5,558.3) rotate(-90)" font-family='"Liberation Serif", serif' font-size="46" fill="#404040">
<text y="0" transform="scale(0.82,1)" x="0.73 33.05 60.49 92.07 115.37 133.29 160.37 182.93 202.68 245.61 262.20 285.98 305.85 327.07 341.59 370.61 382.80">Endothermic(a.u.)</text>
</g>
<text x="707.00" y="1053.20" font-family='"Liberation Serif", serif' font-size="40.50" font-weight="normal" font-style="normal" fill="#1c1c1c" text-anchor="middle" letter-spacing="0.00" >T(K)</text>
<text x="428.30" y="53.70" font-family='"Liberation Serif", serif' font-size="20.00" font-weight="normal" font-style="normal" fill="#000" text-anchor="start" letter-spacing="0.00" stroke="#000" stroke-width="0.5">T</text>
<text x="447.00" y="64.90" font-family='"Liberation Serif", serif' font-size="21.00" font-weight="normal" font-style="normal" fill="#000" text-anchor="start" letter-spacing="0.00" stroke="#000" stroke-width="0.4">c</text>
<text x="436.50" y="279.10" font-family='"Liberation Serif", serif' font-size="20.00" font-weight="normal" font-style="normal" fill="#000" text-anchor="start" letter-spacing="0.00" stroke="#000" stroke-width="0.5">T</text>
<text x="455.20" y="290.20" font-family='"Liberation Serif", serif' font-size="21.00" font-weight="normal" font-style="normal" fill="#000" text-anchor="start" letter-spacing="0.00" stroke="#000" stroke-width="0.4">c</text>
<text x="1093.60" y="59.10" font-family='"Liberation Serif", serif' font-size="20.00" font-weight="normal" font-style="normal" fill="#000" text-anchor="start" letter-spacing="0.00" stroke="#000" stroke-width="0.5">T</text>
<text x="1110.20" y="70.20" font-family='"Liberation Serif", serif' font-size="21.00" font-weight="normal" font-style="normal" fill="#000" text-anchor="start" letter-spacing="0.00" stroke="#000" stroke-width="0.4">c</text>
<text x="1099.20" y="287.20" font-family='"Liberation Serif", serif' font-size="20.00" font-weight="normal" font-style="normal" fill="#000" text-anchor="start" letter-spacing="0.00" stroke="#000" stroke-width="0.5">T</text>
<text x="1115.20" y="298.30" font-family='"Liberation Serif", serif' font-size="21.00" font-weight="normal" font-style="normal" fill="#000" text-anchor="start" letter-spacing="0.00" stroke="#000" stroke-width="0.4">c</text>
<text x="398.40" y="406.60" font-family='"Liberation Serif", serif' font-size="20.00" font-weight="normal" font-style="normal" fill="#000" text-anchor="start" letter-spacing="0.00" stroke="#000" stroke-width="0.5">T</text>
<text x="414.80" y="418.00" font-family='"Liberation Serif", serif' font-size="21.00" font-weight="normal" font-style="normal" fill="#000" text-anchor="start" letter-spacing="0.00" stroke="#000" stroke-width="0.4">c</text>
<text x="398.50" y="572.30" font-family='"Liberation Serif", serif' font-size="20.00" font-weight="normal" font-style="normal" fill="#000" text-anchor="start" letter-spacing="0.00" stroke="#000" stroke-width="0.5">T</text>
<text x="417.40" y="583.50" font-family='"Liberation Serif", serif' font-size="21.00" font-weight="normal" font-style="normal" fill="#000" text-anchor="start" letter-spacing="0.00" stroke="#000" stroke-width="0.4">c</text>
<text x="1047.60" y="412.20" font-family='"Liberation Serif", serif' font-size="20.00" font-weight="normal" font-style="normal" fill="#000" text-anchor="start" letter-spacing="0.00" stroke="#000" stroke-width="0.5">T</text>
<text x="1066.30" y="423.30" font-family='"Liberation Serif", serif' font-size="21.00" font-weight="normal" font-style="normal" fill="#000" text-anchor="start" letter-spacing="0.00" stroke="#000" stroke-width="0.4">c</text>
<text x="1053.00" y="586.10" font-family='"Liberation Serif", serif' font-size="20.00" font-weight="normal" font-style="normal" fill="#000" text-anchor="start" letter-spacing="0.00" stroke="#000" stroke-width="0.5">T</text>
<text x="1069.20" y="597.20" font-family='"Liberation Serif", serif' font-size="21.00" font-weight="normal" font-style="normal" fill="#000" text-anchor="start" letter-spacing="0.00" stroke="#000" stroke-width="0.4">c</text>
<text x="758.70" y="735.30" font-family='"Liberation Serif", serif' font-size="20.00" font-weight="normal" font-style="normal" fill="#000" text-anchor="start" letter-spacing="0.00" stroke="#000" stroke-width="0.5">T</text>
<text x="774.50" y="746.30" font-family='"Liberation Serif", serif' font-size="21.00" font-weight="normal" font-style="normal" fill="#000" text-anchor="start" letter-spacing="0.00" stroke="#000" stroke-width="0.4">c</text>
<text x="758.70" y="952.70" font-family='"Liberation Serif", serif' font-size="20.00" font-weight="normal" font-style="normal" fill="#000" text-anchor="start" letter-spacing="0.00" stroke="#000" stroke-width="0.5">T</text>
<text x="774.70" y="963.80" font-family='"Liberation Serif", serif' font-size="21.00" font-weight="normal" font-style="normal" fill="#000" text-anchor="start" letter-spacing="0.00" stroke="#000" stroke-width="0.4">c</text>
<text x="794.00" y="66.80" font-family='"Liberation Serif", serif' font-size="20.50" font-weight="bold" font-style="italic" fill="#000" text-anchor="start" letter-spacing="0.00" >M</text>
<text x="820.00" y="77.50" font-family='"Liberation Serif", serif' font-size="21.00" font-weight="bold" font-style="italic" fill="#000" text-anchor="start" letter-spacing="0.00" >s</text>
<text x="772.50" y="205.30" font-family='"Liberation Serif", serif' font-size="20.50" font-weight="bold" font-style="italic" fill="#000" text-anchor="start" letter-spacing="0.00" >A</text>
<text x="792.50" y="216.00" font-family='"Liberation Serif", serif' font-size="21.00" font-weight="bold" font-style="italic" fill="#000" text-anchor="start" letter-spacing="0.00" >s</text>
<text x="870.50" y="224.30" font-family='"Liberation Serif", serif' font-size="20.50" font-weight="bold" font-style="italic" fill="#000" text-anchor="start" letter-spacing="0.00" >A</text>
<text x="890.30" y="232.70" font-family='"Liberation Serif", serif' font-size="15.00" font-weight="bold" font-style="italic" fill="#000" text-anchor="start" letter-spacing="0.00" >f</text>
<text x="124.00" y="406.80" font-family='"Liberation Serif", serif' font-size="20.50" font-weight="bold" font-style="italic" fill="#000" text-anchor="start" letter-spacing="0.00" >M</text>
<text x="149.30" y="414.20" font-family='"Liberation Serif", serif' font-size="15.00" font-weight="bold" font-style="italic" fill="#000" text-anchor="start" letter-spacing="0.00" >f</text>
<text x="214.00" y="423.30" font-family='"Liberation Serif", serif' font-size="20.50" font-weight="bold" font-style="italic" fill="#000" text-anchor="start" letter-spacing="0.00" >M</text>
<text x="238.50" y="434.00" font-family='"Liberation Serif", serif' font-size="21.00" font-weight="bold" font-style="italic" fill="#000" text-anchor="start" letter-spacing="0.00" >s</text>
<text x="206.50" y="545.30" font-family='"Liberation Serif", serif' font-size="20.50" font-weight="bold" font-style="italic" fill="#000" text-anchor="start" letter-spacing="0.00" >A</text>
<text x="225.00" y="556.00" font-family='"Liberation Serif", serif' font-size="21.00" font-weight="bold" font-style="italic" fill="#000" text-anchor="start" letter-spacing="0.00" >s</text>
<text x="284.00" y="539.30" font-family='"Liberation Serif", serif' font-size="20.50" font-weight="bold" font-style="italic" fill="#000" text-anchor="start" letter-spacing="0.00" >A</text>
<text x="304.30" y="547.70" font-family='"Liberation Serif", serif' font-size="15.00" font-weight="bold" font-style="italic" fill="#000" text-anchor="start" letter-spacing="0.00" >f</text>
<text x="816.50" y="421.80" font-family='"Liberation Serif", serif' font-size="20.50" font-weight="bold" font-style="italic" fill="#000" text-anchor="start" letter-spacing="0.00" >M</text>
<text x="841.30" y="430.20" font-family='"Liberation Serif", serif' font-size="15.00" font-weight="bold" font-style="italic" fill="#000" text-anchor="start" letter-spacing="0.00" >f</text>
<text x="936.50" y="428.00" font-family='"Liberation Serif", serif' font-size="20.50" font-weight="bold" font-style="italic" fill="#000" text-anchor="start" letter-spacing="0.00" >M</text>
<text x="960.00" y="438.70" font-family='"Liberation Serif", serif' font-size="21.00" font-weight="bold" font-style="italic" fill="#000" text-anchor="start" letter-spacing="0.00" >s</text>
<text x="876.50" y="548.00" font-family='"Liberation Serif", serif' font-size="20.50" font-weight="bold" font-style="italic" fill="#000" text-anchor="start" letter-spacing="0.00" >A</text>
<text x="895.00" y="558.70" font-family='"Liberation Serif", serif' font-size="21.00" font-weight="bold" font-style="italic" fill="#000" text-anchor="start" letter-spacing="0.00" >s</text>
<text x="981.50" y="553.00" font-family='"Liberation Serif", serif' font-size="20.50" font-weight="bold" font-style="italic" fill="#000" text-anchor="start" letter-spacing="0.00" >A</text>
<text x="1001.30" y="561.70" font-family='"Liberation Serif", serif' font-size="15.00" font-weight="bold" font-style="italic" fill="#000" text-anchor="start" letter-spacing="0.00" >f</text>
<text x="537.00" y="121.50" font-family='"Liberation Serif", serif' font-size="18.50" font-weight="normal" font-style="normal" fill="#222" text-anchor="start" letter-spacing="0.00" textLength="75.0" lengthAdjust="spacing">cooling</text>
<text x="553.00" y="251.50" font-family='"Liberation Serif", serif' font-size="18.50" font-weight="normal" font-style="normal" fill="#222" text-anchor="start" letter-spacing="0.00" textLength="69.5" lengthAdjust="spacing">heating</text>
<text x="1207.50" y="112.80" font-family='"Liberation Serif", serif' font-size="18.50" font-weight="normal" font-style="normal" fill="#222" text-anchor="start" letter-spacing="0.00" textLength="72.0" lengthAdjust="spacing">cooling</text>
<text x="1224.00" y="281.50" font-family='"Liberation Serif", serif' font-size="18.50" font-weight="normal" font-style="normal" fill="#222" text-anchor="start" letter-spacing="0.00" textLength="68.5" lengthAdjust="spacing">heating</text>
<text x="535.00" y="442.30" font-family='"Liberation Serif", serif' font-size="18.50" font-weight="normal" font-style="normal" fill="#222" text-anchor="start" letter-spacing="0.00" textLength="71.5" lengthAdjust="spacing">cooling</text>
<text x="561.00" y="552.80" font-family='"Liberation Serif", serif' font-size="18.50" font-weight="normal" font-style="normal" fill="#222" text-anchor="start" letter-spacing="0.00" textLength="69.0" lengthAdjust="spacing">heating</text>
<text x="1170.00" y="449.80" font-family='"Liberation Serif", serif' font-size="18.50" font-weight="normal" font-style="normal" fill="#222" text-anchor="start" letter-spacing="0.00" textLength="71.5" lengthAdjust="spacing">cooling</text>
<text x="1212.50" y="560.30" font-family='"Liberation Serif", serif' font-size="18.50" font-weight="normal" font-style="normal" fill="#222" text-anchor="start" letter-spacing="0.00" textLength="69.0" lengthAdjust="spacing">heating</text>
<text x="881.00" y="809.00" font-family='"Liberation Serif", serif' font-size="18.50" font-weight="normal" font-style="normal" fill="#222" text-anchor="start" letter-spacing="0.00" textLength="72.0" lengthAdjust="spacing">cooling</text>
<text x="861.00" y="936.00" font-family='"Liberation Serif", serif' font-size="18.50" font-weight="normal" font-style="normal" fill="#222" text-anchor="start" letter-spacing="0.00" textLength="69.5" lengthAdjust="spacing">heating</text>
<line x1="602.00" y1="145.00" x2="556.00" y2="134.00" stroke="#000" stroke-width="2.30" stroke-linecap="butt"/>
<line x1="556.00" y1="134.00" x2="568.64" y2="137.02" stroke="#000" stroke-width="5.00" stroke-linecap="butt"/>
<line x1="567.00" y1="217.50" x2="612.50" y2="223.50" stroke="#000" stroke-width="2.30" stroke-linecap="butt"/>
<line x1="612.50" y1="223.50" x2="599.61" y2="221.80" stroke="#000" stroke-width="5.00" stroke-linecap="butt"/>
<line x1="1254.00" y1="134.00" x2="1216.00" y2="125.30" stroke="#000" stroke-width="2.30" stroke-linecap="butt"/>
<line x1="1216.00" y1="125.30" x2="1228.67" y2="128.20" stroke="#000" stroke-width="5.00" stroke-linecap="butt"/>
<line x1="1249.00" y1="239.50" x2="1286.00" y2="246.00" stroke="#000" stroke-width="2.30" stroke-linecap="butt"/>
<line x1="1286.00" y1="246.00" x2="1273.20" y2="243.75" stroke="#000" stroke-width="5.00" stroke-linecap="butt"/>
<line x1="588.50" y1="457.50" x2="545.00" y2="451.50" stroke="#000" stroke-width="2.30" stroke-linecap="butt"/>
<line x1="545.00" y1="451.50" x2="557.88" y2="453.28" stroke="#000" stroke-width="5.00" stroke-linecap="butt"/>
<line x1="572.50" y1="522.00" x2="618.50" y2="522.00" stroke="#000" stroke-width="2.30" stroke-linecap="butt"/>
<circle cx="606" cy="522" r="3.1" fill="#000"/>
<line x1="1228.50" y1="462.50" x2="1184.00" y2="457.50" stroke="#000" stroke-width="2.30" stroke-linecap="butt"/>
<line x1="1184.00" y1="457.50" x2="1196.92" y2="458.95" stroke="#000" stroke-width="5.00" stroke-linecap="butt"/>
<line x1="1226.50" y1="532.50" x2="1275.00" y2="538.50" stroke="#000" stroke-width="2.30" stroke-linecap="butt"/>
<line x1="1275.00" y1="538.50" x2="1262.10" y2="536.90" stroke="#000" stroke-width="5.00" stroke-linecap="butt"/>
<line x1="926.00" y1="825.00" x2="891.00" y2="813.00" stroke="#000" stroke-width="2.30" stroke-linecap="butt"/>
<line x1="891.00" y1="813.00" x2="903.30" y2="817.22" stroke="#000" stroke-width="5.00" stroke-linecap="butt"/>
<line x1="884.00" y1="907.50" x2="923.50" y2="916.00" stroke="#000" stroke-width="2.30" stroke-linecap="butt"/>
<line x1="923.50" y1="916.00" x2="910.79" y2="913.27" stroke="#000" stroke-width="5.00" stroke-linecap="butt"/>
<line x1="437.80" y1="67.00" x2="437.80" y2="96.80" stroke="#000" stroke-width="2.80" stroke-linecap="round"/>
<ellipse cx="439.60" cy="87.30" rx="2.50" ry="6.80" fill="#000"/>
<line x1="445.90" y1="222.40" x2="445.90" y2="249.00" stroke="#000" stroke-width="2.80" stroke-linecap="round"/>
<ellipse cx="445.90" cy="231.50" rx="3.80" ry="4.10" fill="#000"/>
<line x1="1105.80" y1="62.20" x2="1105.80" y2="91.20" stroke="#000" stroke-width="2.80" stroke-linecap="round"/>
<ellipse cx="1105.80" cy="82.00" rx="3.90" ry="3.70" fill="#000"/>
<line x1="1111.10" y1="238.70" x2="1111.10" y2="262.40" stroke="#000" stroke-width="2.80" stroke-linecap="round"/>
<ellipse cx="1110.30" cy="246.50" rx="3.40" ry="5.20" fill="#000"/>
<line x1="410.60" y1="409.80" x2="410.60" y2="439.30" stroke="#000" stroke-width="2.80" stroke-linecap="round"/>
<ellipse cx="410.70" cy="429.70" rx="3.80" ry="3.70" fill="#000"/>
<line x1="410.60" y1="524.10" x2="410.60" y2="550.40" stroke="#000" stroke-width="2.80" stroke-linecap="round"/>
<ellipse cx="410.60" cy="534.40" rx="3.80" ry="5.00" fill="#000"/>
<line x1="1059.60" y1="418.10" x2="1059.60" y2="447.20" stroke="#000" stroke-width="2.80" stroke-linecap="round"/>
<ellipse cx="1059.60" cy="437.90" rx="3.80" ry="3.70" fill="#000"/>
<line x1="1065.10" y1="532.30" x2="1065.10" y2="558.50" stroke="#000" stroke-width="2.80" stroke-linecap="round"/>
<ellipse cx="1063.40" cy="541.30" rx="2.50" ry="6.60" fill="#000"/>
<line x1="768.20" y1="738.30" x2="768.20" y2="767.70" stroke="#000" stroke-width="2.80" stroke-linecap="round"/>
<ellipse cx="768.00" cy="756.50" rx="3.90" ry="4.90" fill="#000"/>
<line x1="770.80" y1="901.30" x2="770.80" y2="925.10" stroke="#000" stroke-width="2.80" stroke-linecap="round"/>
<ellipse cx="770.80" cy="910.50" rx="4.00" ry="4.30" fill="#000"/>
</svg>
</body></html>
